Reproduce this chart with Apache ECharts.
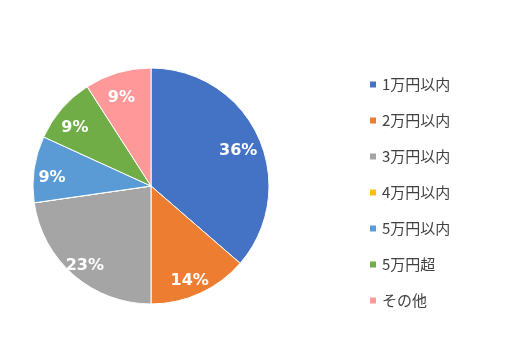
<!DOCTYPE html>
<html><head><meta charset="utf-8">
<script src="https://cdn.jsdelivr.net/npm/echarts@6/dist/echarts.min.js"></script>
<style>html,body{margin:0;padding:0;background:#fff}#c{width:525px;height:360px}</style>
</head><body><div id="c"></div>
<script>
const categories = ['1万円以内','2万円以内','3万円以内','4万円以内','5万円以内','5万円超','その他'];
const counts = [8, 3, 5, 0, 2, 2, 2];
const colors = ['#4472C4','#ED7D31','#A5A5A5','#FFC000','#5B9BD5','#70AD47','#FF9999'];

const total = counts.reduce((a,b)=>a+b,0);
const data = categories.map((n,i)=>({name:n, value:counts[i], itemStyle:{color:colors[i]}}));
const chart = echarts.init(document.getElementById('c'));
const fontFamily = '"Noto Sans CJK JP", "Noto Sans", sans-serif';
chart.setOption({
  animation:false,
  legend:{
    orient:'vertical', left:363, top:72,
    itemWidth:8, itemHeight:8, itemGap:21, icon:'rect',
    textStyle:{fontFamily, fontSize:15, lineHeight:15, color:'#404040'},
    data:categories
  },
  series:[
    {type:'pie', center:[151,186], radius:[0,118], startAngle:90, clockwise:true,
     data:data, label:{show:false}, labelLine:{show:false},
     itemStyle:{borderColor:'#fff', borderWidth:1}, silent:true},
    {type:'pie', center:[151,186], radius:[0,190], startAngle:90, clockwise:true,
     data:categories.map((n,i)=>({name:n, value:counts[i], itemStyle:{color:'rgba(0,0,0,0)'}})),
     legendHoverLink:false, silent:true, labelLine:{show:false},
     label:{show:true, position:'inside', offset:[-2,6], color:'#fff', fontWeight:'bold', fontSize:16, fontFamily:'Verdana, "DejaVu Sans", sans-serif',
       formatter:p=>p.value>0?Math.round(p.value/total*100)+'%':''}}
  ]
});
</script></body></html>
